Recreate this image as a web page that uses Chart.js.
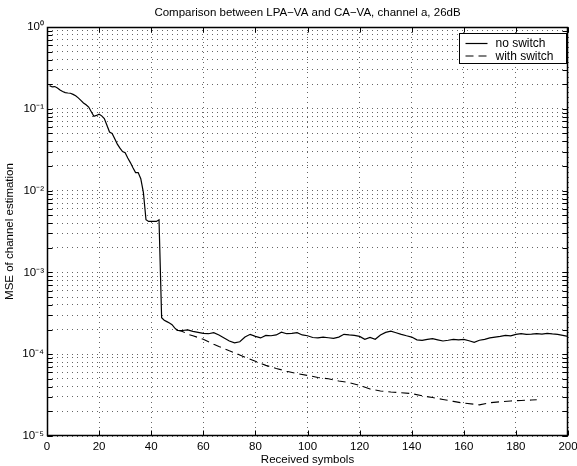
<!DOCTYPE html>
<html>
<head>
<meta charset="utf-8">
<script src="https://cdn.jsdelivr.net/npm/chart.js@4.4.1/dist/chart.umd.min.js"></script>
<style>
  html, body { margin: 0; padding: 0; background: #fff; }
  #wrap { width: 577px; height: 466px; }
</style>
</head>
<body>
<div id="wrap"><canvas id="mseChart"></canvas></div>
<script>
// === DATA ===
const noSwitchX = [1, 2, 3, 4, 5, 6, 7, 8, 9, 10, 11, 12, 13, 14, 15, 16, 17, 18, 19, 20,
  21, 22, 23, 24, 25, 26, 27, 28, 29, 30, 31, 32, 33, 34, 35, 36, 37, 38, 39, 40,
  41, 42, 43, 44, 45, 46, 47, 48, 49, 50, 52, 54, 56, 58, 60, 62, 64, 66, 68, 70,
  72, 74, 76, 78, 80, 82, 84, 86, 88, 90, 92, 94, 96, 98, 100, 102, 104, 106, 108, 110,
  112, 114, 116, 118, 120, 122, 124, 126, 128, 130, 132, 134, 136, 138, 140, 142, 144, 146, 148, 150,
  152, 154, 156, 158, 160, 162, 164, 166, 168, 170, 172, 174, 176, 178, 180, 182, 184, 186, 188, 190,
  192, 194, 196, 198, 200];
const noSwitchY = [0.192, 0.185, 0.187, 0.18, 0.17, 0.163, 0.158, 0.156, 0.155, 0.15,
  0.144, 0.136, 0.127, 0.118, 0.112, 0.105, 0.092, 0.081, 0.083, 0.086,
  0.082, 0.076, 0.063, 0.052, 0.05, 0.043, 0.037, 0.033, 0.030, 0.029,
  0.025, 0.022, 0.019, 0.0166, 0.0166, 0.014, 0.0095, 0.0044, 0.0042, 0.0042,
  0.0042, 0.0042, 0.0044, 0.00028, 0.00026, 0.00025, 0.00024, 0.00023, 0.00021, 0.000196,
  0.000195, 0.000198, 0.00019, 0.000185, 0.00018, 0.000178, 0.000183, 0.000172, 0.000158, 0.000145,
  0.000138, 0.000142, 0.000162, 0.000175, 0.000165, 0.000158, 0.00017, 0.000168, 0.000172, 0.000186,
  0.000178, 0.00018, 0.000183, 0.000172, 0.000168, 0.00016, 0.000158, 0.000162, 0.000159, 0.000156,
  0.000162, 0.000175, 0.000172, 0.00017, 0.000165, 0.000152, 0.00016, 0.000152, 0.000172, 0.000185,
  0.000191, 0.000183, 0.000175, 0.000168, 0.000162, 0.00015, 0.000148, 0.000152, 0.000155, 0.00015,
  0.000145, 0.000148, 0.000152, 0.00015, 0.000152, 0.000146, 0.00014, 0.000148, 0.000152, 0.000158,
  0.000162, 0.000165, 0.00017, 0.000168, 0.000175, 0.000178, 0.000175, 0.000176, 0.000178, 0.000176,
  0.00018, 0.000177, 0.000175, 0.00017, 0.000165];

const withSwitchX = [50, 52, 54, 56, 58, 60, 62, 64, 66, 68, 70, 72, 74, 76, 78, 80,
  84, 88, 92, 96, 100, 104, 108, 112, 116, 120, 124, 128, 132, 136, 140, 144,
  148, 152, 156, 160, 164, 166, 170, 174, 178, 182, 186, 188];
const withSwitchY = [0.000196, 0.00019, 0.000176, 0.000168, 0.00016, 0.000152, 0.000142, 0.000132,
  0.000124, 0.000117, 0.00011, 0.000104, 9.8e-5, 9.2e-5, 8.7e-5, 8.2e-5,
  7.3e-5, 6.7e-5, 6.2e-5, 5.8e-5, 5.5e-5, 5.2e-5, 5.0e-5, 4.7e-5, 4.5e-5, 4.15e-5, 3.75e-5, 3.55e-5,
  3.45e-5, 3.38e-5, 3.3e-5, 3.1e-5, 2.95e-5, 2.8e-5, 2.65e-5, 2.52e-5, 2.45e-5, 2.4e-5,
  2.55e-5, 2.62e-5, 2.68e-5, 2.72e-5, 2.75e-5, 2.78e-5];

const seriesLabels = ['no switch', 'with switch'];
const xTicks = [0, 20, 40, 60, 80, 100, 120, 140, 160, 180, 200];
const yDecades = [-5, -4, -3, -2, -1, 0];
const yTickLabels = ['10⁻⁵', '10⁻⁴', '10⁻³', '10⁻²', '10⁻¹', '10⁰'];

// log ticks: 1..9 x 10^n for every decade, plus the top one
const yTickValues = [];
yDecades.slice(0, -1).forEach(e => {
  for (let m = 1; m <= 9; m++) yTickValues.push(m * Math.pow(10, e));
});
yTickValues.push(1);

const FONT = "'Liberation Sans', Arial, Helvetica, sans-serif";
const font = { family: FONT, size: 11.5 };

// === frame, inward ticks, legend ===
const matlabBox = {
  id: 'matlabBox',
  afterDatasetsDraw(chart) {
    const { ctx, chartArea: a, scales: { x, y } } = chart;
    const L = Math.round(a.left) + 0.5, R = Math.round(a.right) - 0.5;
    const T = Math.round(a.top) + 0.5, B = Math.round(a.bottom) - 0.5;
    ctx.save();
    ctx.strokeStyle = '#000';
    ctx.lineWidth = 1;
    ctx.beginPath();
    x.ticks.forEach(t => {
      const px = Math.round(x.getPixelForValue(t.value)) + 0.5;
      ctx.moveTo(px, B); ctx.lineTo(px, B - 5);
      ctx.moveTo(px, T); ctx.lineTo(px, T + 5);
    });
    y.ticks.forEach(t => {
      const py = Math.round(y.getPixelForValue(t.value)) + 0.5;
      ctx.moveTo(L, py); ctx.lineTo(L + 5, py);
      ctx.moveTo(R, py); ctx.lineTo(R - 5, py);
    });
    ctx.stroke();
    ctx.lineWidth = 1.5;
    ctx.strokeRect(L, T, R - L, B - T);
    ctx.restore();
  },
  afterDraw(chart) {
    const { ctx, chartArea: a } = chart;
    const w = 107, h = 30;
    const left = Math.round(a.right) - w - 1.5, top = Math.round(a.top) + 6.5;
    ctx.save();
    ctx.fillStyle = '#fff';
    ctx.fillRect(left, top, w, h);
    ctx.strokeStyle = '#000';
    ctx.lineWidth = 1;
    ctx.strokeRect(left, top, w, h);
    ctx.font = `12px ${FONT}`;
    ctx.textBaseline = 'middle';
    ctx.fillStyle = '#000';
    chart.data.datasets.forEach((ds, i) => {
      const yy = top + 10 + i * 12.5;
      ctx.beginPath();
      ctx.setLineDash(ds.borderDash || []);
      ctx.lineWidth = ds.borderWidth;
      ctx.moveTo(left + 6, yy);
      ctx.lineTo(left + 28, yy);
      ctx.stroke();
      ctx.setLineDash([]);
      ctx.fillText(ds.label, left + 36, yy + 0.5);
    });
    ctx.restore();
  }
};

const toPoints = (xs, ys) => xs.map((x, i) => ({ x: x, y: ys[i] }));

new Chart(document.getElementById('mseChart'), {
  type: 'line',
  data: {
    datasets: [{
      label: seriesLabels[0],
      data: toPoints(noSwitchX, noSwitchY),
      borderColor: '#000',
      borderWidth: 1.2,
      pointRadius: 0,
      tension: 0
    }, {
      label: seriesLabels[1],
      data: toPoints(withSwitchX, withSwitchY),
      borderColor: '#000',
      borderWidth: 1.1,
      borderDash: [8, 5],
      pointRadius: 0,
      tension: 0
    }]
  },
  options: {
    responsive: true,
    maintainAspectRatio: false,
    animation: false,
    layout: { padding: { left: 0, right: 9, top: 0, bottom: 0 } },
    plugins: { legend: { display: false }, tooltip: { enabled: false } },
    scales: {
      x: {
        type: 'linear', min: 0, max: 200,
        afterBuildTicks: s => { s.ticks = xTicks.map(v => ({ value: v })); },
        afterFit: s => { s.height = 30; s.paddingLeft = 0; s.paddingRight = 0; },
        ticks: { padding: 4, maxRotation: 0, autoSkip: false, color: '#000', font: font },
        grid: { color: '#666', lineWidth: 1, drawTicks: false },
        border: { display: false, dash: [1, 4] },
        title: { display: true, text: 'Received symbols', color: '#000',
          font: { family: FONT, size: 11.5, lineHeight: 1 }, padding: { top: 0, bottom: 0 } }
      },
      x2: {
        type: 'linear', position: 'top', min: 0, max: 200, display: true,
        ticks: { display: false },
        grid: { display: false },
        border: { display: false },
        afterFit: s => { s.height = 27; s.paddingLeft = 0; s.paddingRight = 0; },
        title: { display: true, text: 'Comparison between LPA−VA and CA−VA, channel a, 26dB',
          color: '#000', font: font, padding: { top: 6, bottom: 0 } }
      },
      y: {
        type: 'logarithmic', min: 1e-5, max: 1,
        afterBuildTicks: s => { s.ticks = yTickValues.map(v => ({ value: v })); },
        afterFit: s => { s.width = 47; s.paddingTop = 0; s.paddingBottom = 0; },
        ticks: {
          autoSkip: false, padding: 3, color: '#000', font: font,
          callback: v => {
            const e = Math.log10(v), r = Math.round(e);
            return Math.abs(e - r) < 1e-6 ? yTickLabels[yDecades.indexOf(r)] : '';
          }
        },
        grid: { color: '#666', lineWidth: 1, drawTicks: false },
        border: { display: false, dash: [1, 4] },
        title: { display: true, text: 'MSE of channel estimation', color: '#000',
          font: font, padding: { top: 3, bottom: 0 } }
      }
    }
  },
  plugins: [matlabBox]
});
</script>
</body>
</html>
